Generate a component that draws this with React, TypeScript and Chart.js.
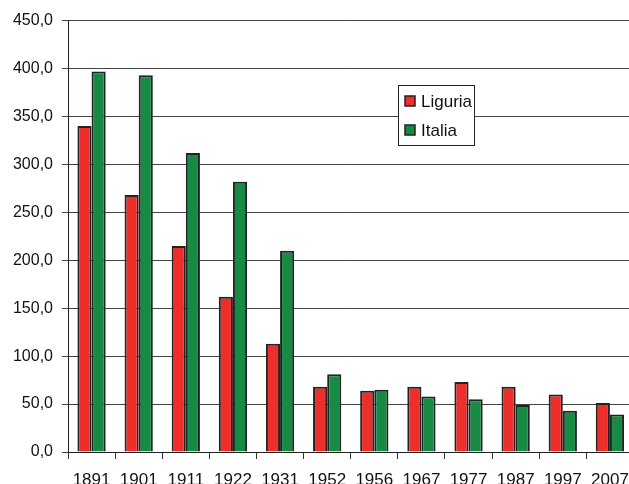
import React, { useEffect, useRef } from "react";
import { Chart, registerables } from "chart.js";

Chart.register(...registerables);

const categories = ["1891", "1901", "1911", "1922", "1931", "1952", "1956", "1967", "1977", "1987", "1997", "2007"];
const liguria = [340, 268, 215, 162, 113, 68, 64, 68, 73, 68, 60, 51];
const italia = [397, 393, 312, 282, 210, 81, 65, 58, 55, 49, 43, 39];
const seriesNames = ["Liguria", "Italia"];
const seriesColors = ["#EE2E2B", "#178A44"];

const legendPlugin = {
  id: "boxLegend",
  afterDraw(chart: any) {
    const ctx = chart.ctx;
    const x = 398, y = 83, w = 76, h = 60;
    ctx.save();
    ctx.fillStyle = "#ffffff";
    ctx.fillRect(x, y, w, h);
    ctx.strokeStyle = "#222";
    ctx.lineWidth = 1;
    ctx.strokeRect(x + 0.5, y + 0.5, w, h);
    chart.data.datasets.forEach((ds: any, i: number) => {
      const cy = y + 16 + i * 29;
      ctx.fillStyle = ds.backgroundColor;
      ctx.fillRect(405, cy - 5, 10, 10);
      ctx.strokeStyle = "#222";
      ctx.lineWidth = 1.5;
      ctx.strokeRect(405, cy - 5, 10, 10);
      ctx.fillStyle = "#111";
      ctx.font = "17px 'Liberation Sans', Arial, sans-serif";
      ctx.textBaseline = "middle";
      ctx.textAlign = "left";
      ctx.fillText(ds.label, 421, cy + 1);
    });
    ctx.restore();
  },
};

export default function App() {
  const ref = useRef<HTMLCanvasElement>(null);
  useEffect(() => {
    if (!ref.current) return;
    const chart = new Chart(ref.current, {
      type: "bar",
      data: {
        labels: categories,
        datasets: [
          { label: seriesNames[0], data: liguria, backgroundColor: seriesColors[0], borderColor: "#222", borderWidth: 2 },
          { label: seriesNames[1], data: italia, backgroundColor: seriesColors[1], borderColor: "#222", borderWidth: 2 },
        ],
      },
      options: {
        animation: false,
        responsive: false,
        maintainAspectRatio: false,
        layout: { padding: { top: 16, right: 4, left: 0, bottom: 0 } },
        datasets: { bar: { categoryPercentage: 0.6, barPercentage: 1.0 } },
        plugins: { legend: { display: false }, tooltip: { enabled: false } },
        scales: {
          x: {
            grid: { offset: true, drawOnChartArea: false, drawTicks: true, tickLength: 7, color: "#333" },
            border: { color: "#222", width: 1 },
            ticks: {
              color: "#111",
              padding: 11,
              maxRotation: 0,
              autoSkip: false,
              font: { family: "'Liberation Sans', Arial, sans-serif", size: 17 },
            },
            afterFit: (s: any) => { s.height = 45; },
          },
          y: {
            min: 0,
            max: 450,
            ticks: {
              stepSize: 50,
              color: "#111",
              padding: 9,
              font: { family: "'Liberation Sans', Arial, sans-serif", size: 16 },
              callback: (v: any) => Number(v).toFixed(1).replace(".", ","),
            },
            grid: { color: "#444", lineWidth: 1, tickLength: 6 },
            border: { color: "#222", width: 1 },
            afterFit: (s: any) => { s.width = 68; },
          },
        },
      },
      plugins: [legendPlugin],
    });
    return () => chart.destroy();
  }, []);
  return (
    <div style={{ position: "fixed", left: 0, top: 0, width: 629, height: 484, overflow: "hidden", background: "#fff" }}>
      <canvas ref={ref} width={640} height={495} style={{ display: "block", width: 640, height: 495, marginTop: 2 }} />
    </div>
  );
}
